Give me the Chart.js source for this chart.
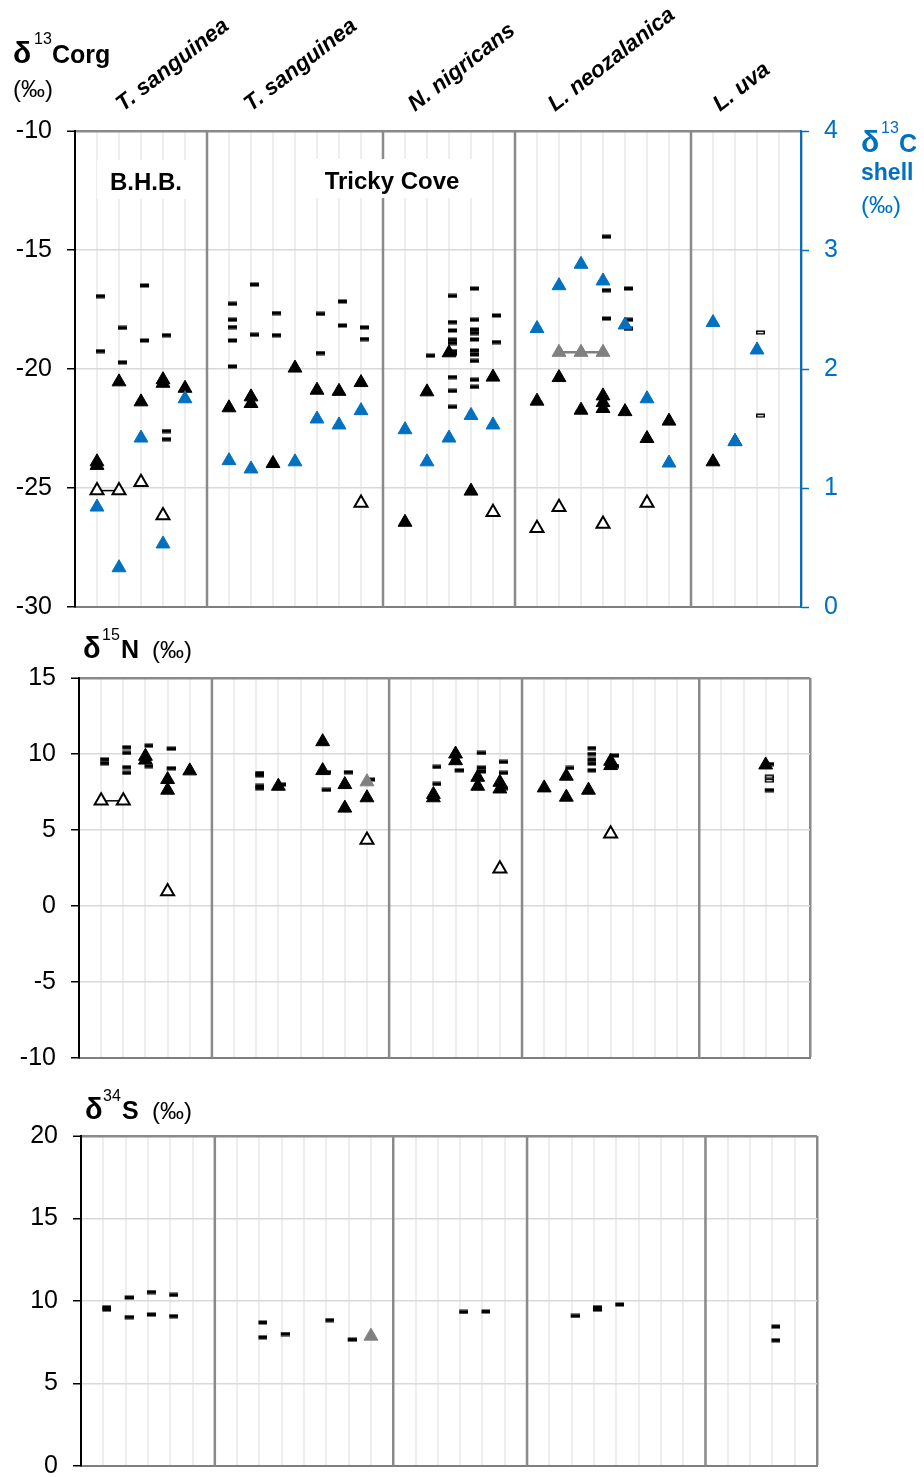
<!DOCTYPE html>
<html>
<head>
<meta charset="utf-8">
<script src="https://cdn.jsdelivr.net/npm/chart.js@4.4.1/dist/chart.umd.min.js"></script>
<style>
  html, body { margin: 0; padding: 0; background: #fff; overflow: hidden; }
  .panel { position: absolute; left: 0; width: 924px; }
</style>
</head>
<body>
<div class="panel" style="top:0;height:620px"><canvas id="c13"></canvas></div>
<div class="panel" style="top:620px;height:450px"><canvas id="n15"></canvas></div>
<div class="panel" style="top:1070px;height:407px"><canvas id="s34"></canvas></div>
<script>
// ---- categories / axes ----
const species = ["T. sanguinea", "T. sanguinea", "N. nigricans", "L. neozalanica", "L. uva"];
const sites = ["B.H.B.", "Tricky Cove"];
const groupBreaks = [6, 14, 20, 28];   // slot boundaries between species
const slotRange = [0, 33];
const corgRange = [-30, -10, 5];
const shellRange = [0, 4, 1];
const nRange = [-10, 15, 5];
const sRange = [0, 20, 5];

// ---- d13C org (left axis) ----
const corgSamples = [
  [1, -16.94], [1, -19.25], [2, -18.27], [2, -19.72], [3, -16.49], [3, -18.8],
  [4, -18.58], [4, -22.61], [4, -22.95],
  [7, -17.26], [7, -17.93], [7, -18.24], [7, -18.8], [7, -19.89],
  [8, -16.45], [8, -18.56], [9, -17.65], [9, -18.58], [11, -17.68], [11, -19.33],
  [12, -17.16], [12, -18.17], [13, -18.25], [13, -18.74],
  [16, -19.44],
  [17, -16.93], [17, -18.03], [17, -18.38], [17, -18.77], [17, -18.91], [17, -19.25],
  [17, -19.36], [17, -20.34], [17, -20.92], [17, -21.59],
  [18, -16.62], [18, -17.93], [18, -18.34], [18, -18.49], [18, -18.76], [18, -19.22],
  [18, -19.39], [18, -19.66], [18, -20.45], [18, -20.75],
  [19, -17.75], [19, -18.87],
  [24, -14.44], [24, -16.69], [24, -17.88], [25, -16.62], [25, -17.93], [25, -18.31]
];
const corgHollow = [[31, -18.46], [31, -21.96]];
const corgMeans = [
  [1, -23.9], [1, -24.05], [2, -20.54], [3, -21.38], [4, -20.45], [4, -20.6], [5, -20.81],
  [7, -21.63], [8, -21.17], [8, -21.45], [9, -23.97], [10, -19.96], [11, -20.89],
  [12, -20.94], [13, -20.57],
  [15, -26.44], [16, -20.96], [17, -19.32], [18, -25.13], [19, -20.34],
  [21, -21.35], [22, -20.36], [23, -21.73], [24, -21.13], [24, -21.41], [24, -21.66],
  [25, -21.79], [26, -22.92], [27, -22.19],
  [29, -23.9], [30, -23.05]
];
const corgOpen = [[3, -24.76], [4, -26.16], [13, -25.63], [19, -26.02], [21, -26.69],
  [22, -25.81], [24, -26.51], [26, -25.63]];
const corgOpenPair = [[1, -25.11], [2, -25.11]];
const corgGray = [[22, -19.3], [23, -19.3], [24, -19.3]];

// ---- d13C shell (right axis) ----
const shellMeans = [
  [1, 0.84], [2, 0.33], [3, 1.42], [4, 0.53], [5, 1.75],
  [7, 1.23], [8, 1.16], [10, 1.22], [11, 1.58], [12, 1.53], [13, 1.65],
  [15, 1.49], [16, 1.22], [17, 1.42], [18, 1.61], [19, 1.53],
  [21, 2.34], [22, 2.7], [23, 2.88], [24, 2.74], [25, 2.37], [26, 1.75], [27, 1.21],
  [29, 2.39], [30, 1.39], [31, 2.16]
];

// ---- d15N ----
const nSamples = [
  [1, 9.65], [1, 9.39], [2, 10.44], [2, 10.07], [2, 9.13], [2, 8.76], [3, 10.55], [3, 9.2],
  [4, 10.35], [4, 9.06],
  [8, 8.75], [8, 8.6], [8, 7.9], [8, 7.75], [9, 7.99], [11, 8.8], [11, 7.64], [12, 8.8], [13, 8.32],
  [16, 9.15], [16, 8.03], [17, 8.93], [18, 10.07], [18, 9.1], [18, 8.85],
  [19, 9.48], [19, 8.76], [19, 7.75],
  [22, 9.08], [23, 10.39], [23, 10.0], [23, 9.63], [23, 9.37], [23, 8.93], [24, 9.9], [24, 9.2],
  [31, 9.34], [31, 7.62]
];
const nHollow = [[31, 8.5], [31, 8.25]];
const nMeans = [
  [3, 9.85], [3, 9.6], [4, 8.32], [4, 7.62], [5, 8.89],
  [9, 7.88], [11, 10.81], [11, 8.91], [12, 7.99], [12, 6.44], [13, 7.12],
  [16, 7.34], [16, 7.12], [17, 10.0], [17, 9.56], [18, 8.47], [18, 7.88], [19, 8.14], [19, 7.7],
  [21, 7.77], [22, 8.54], [22, 7.16], [23, 7.62], [24, 9.52], [24, 9.24],
  [31, 9.28]
];
const nOpen = [[4, 0.95], [13, 4.35], [19, 2.45], [24, 4.76]];
const nOpenPair = [[1, 6.92], [2, 6.92]];
const nGray = [[13, 8.17]];

// ---- d34S ----
const sSamples = [
  [1, 9.62], [1, 9.48], [2, 10.21], [2, 9.02], [3, 10.54], [3, 9.18], [4, 10.37], [4, 9.08],
  [8, 8.7], [8, 7.8], [9, 8.0], [11, 8.84], [12, 7.66],
  [17, 9.34], [18, 9.36],
  [22, 9.1], [23, 9.62], [23, 9.48], [24, 9.79],
  [31, 8.45], [31, 7.62]
];
const sGray = [[13, 7.87]];

// ---- styling ----
const FONT = "'Liberation Sans', Arial, Helvetica, sans-serif";
const BLUE = "#0070C0";
const SEP = "#8a8a8a";

function dashImage(hollow) {
  const c = document.createElement("canvas");
  c.width = 16; c.height = 5;
  const g = c.getContext("2d");
  g.fillStyle = "#000";
  g.fillRect(7, 0.5, 9, 4);
  if (hollow) { g.fillStyle = "#fff"; g.fillRect(8.5, 2, 6, 1.2); }
  return c;
}
const solidDash = dashImage(false);
const hollowDash = dashImage(true);

const pts = (arr) => arr.map(([x, y]) => ({ x, y }));

function dashSet(data, hollow) {
  return { data: pts(data), pointStyle: hollow ? hollowDash : solidDash, pointRadius: 4, showLine: false };
}
function triSet(data, fill, border, bw, extra) {
  return Object.assign({
    data: pts(data), pointStyle: "triangle", pointRadius: 8,
    pointBackgroundColor: fill, pointBorderColor: border, pointBorderWidth: bw, showLine: false
  }, extra || {});
}

function xScale() {
  const last = slotRange[1];
  return {
    type: "linear", min: slotRange[0], max: last,
    ticks: { display: false, stepSize: 1 },
    grid: {
      color: (c) => (c.tick && c.tick.value === last ? SEP : "#eeeeee"),
      lineWidth: (c) => (c.tick && c.tick.value === last ? 2.5 : 2),
      drawTicks: false
    },
    border: { color: "#7f7f7f", width: 2 },
    afterFit: (s) => { s.height = 0; }
  };
}
function yScale(range, width, color, pos) {
  const [min, max, step] = range;
  const right = pos === "right";
  return {
    type: "linear", position: pos || "left", min, max,
    ticks: { stepSize: step, color: color, font: { family: FONT, size: 25 }, padding: 15 },
    grid: right ? { drawOnChartArea: false, tickColor: color, tickLength: 8, tickWidth: 1.5 } : {
      color: (c) => (c.tick && c.tick.value === max ? SEP : "#d9d9d9"),
      lineWidth: (c) => (c.tick && c.tick.value === max ? 2.5 : 1.5),
      tickColor: "#000", tickLength: 8, tickWidth: 1.5
    },
    border: { color: color, width: 2 },
    afterFit: (s) => { s.width = width; s.paddingTop = 0; s.paddingBottom = 0; }
  };
}

function drawRuns(ctx, runs) {
  runs.forEach((r) => {
    ctx.font = r.font;
    ctx.fillStyle = r.color || "#000";
    ctx.textAlign = r.align || "left";
    ctx.textBaseline = "alphabetic";
    ctx.fillText(r.text, r.x, r.y);
  });
}

function panelPlugin(opts) {
  return {
    id: "panel",
    beforeDatasetsDraw(chart) {
      const { ctx, chartArea: a, scales } = chart;
      ctx.save();
      ctx.strokeStyle = SEP;
      ctx.lineWidth = 2.5;
      groupBreaks.forEach((v) => {
        const px = scales.x.getPixelForValue(v);
        ctx.beginPath();
        ctx.moveTo(px, a.top);
        ctx.lineTo(px, a.bottom);
        ctx.stroke();
      });
      // site names sit on white boxes that hide the lines behind them
      (opts.boxes || []).forEach((b) => {
        ctx.font = "bold 24px " + FONT;
        const w = ctx.measureText(b.text).width;
        ctx.fillStyle = "#fff";
        ctx.fillRect(b.x - w / 2 - 13, b.y - 30, w + 26, 39);
        drawRuns(ctx, [{ text: b.text, x: b.x, y: b.y, font: "bold 24px " + FONT, align: "center" }]);
      });
      ctx.restore();
    },
    afterDraw(chart) {
      const ctx = chart.ctx;
      ctx.save();
      drawRuns(ctx, opts.titles || []);
      (opts.rotated || []).forEach((r) => {
        ctx.save();
        ctx.translate(r.x, r.y);
        ctx.rotate(-38 * Math.PI / 180);
        ctx.font = "italic bold 22.5px " + FONT;
        ctx.fillStyle = "#000";
        ctx.textAlign = "left";
        ctx.fillText(r.text, 0, 0);
        ctx.restore();
      });
      ctx.restore();
    }
  };
}

function makeChart(id, datasets, scales, padding, plugin) {
  return new Chart(document.getElementById(id), {
    type: "scatter",
    data: { datasets },
    options: {
      responsive: true, maintainAspectRatio: false, animation: false, events: [],
      layout: { padding },
      plugins: { legend: { display: false }, tooltip: { enabled: false } },
      scales
    },
    plugins: [plugin]
  });
}

// ---- top panel: d13C ----
const speciesX = [123, 251, 415, 555, 720];
makeChart("c13", [
  triSet(shellMeans, BLUE, BLUE, 1, { yAxisID: "y2" }),
  triSet(corgGray, "#808080", "#808080", 1, { showLine: true, borderColor: "#808080", borderWidth: 2.5 }),
  triSet(corgOpenPair, "#fff", "#000", 2, { showLine: true, borderColor: "#000", borderWidth: 1.5, pointRadius: 7.5 }),
  triSet(corgOpen, "#fff", "#000", 2, { pointRadius: 7.5 }),
  triSet(corgMeans, "#000", "#000", 1),
  dashSet(corgHollow, true),
  dashSet(corgSamples, false)
], {
  x: xScale(),
  y: yScale(corgRange, 75, "#000", "left"),
  y2: yScale(shellRange, 123, BLUE, "right")
}, { top: 131, bottom: 13, left: 0, right: 0 }, panelPlugin({
  boxes: [{ text: sites[0], x: 146, y: 190 }, { text: sites[1], x: 392, y: 189 }],
  titles: [
    { text: "\u03b4", x: 13, y: 63, font: "bold 30px " + FONT },
    { text: "13", x: 34, y: 44, font: "16px " + FONT },
    { text: "Corg", x: 52, y: 63, font: "bold 25px " + FONT },
    { text: "(\u2030)", x: 13, y: 97, font: "24px " + FONT },
    { text: "\u03b4", x: 861, y: 152, font: "bold 30px " + FONT, color: BLUE },
    { text: "13", x: 881, y: 133, font: "16px " + FONT, color: BLUE },
    { text: "C", x: 899, y: 152, font: "bold 25px " + FONT, color: BLUE },
    { text: "shell", x: 861, y: 180, font: "bold 23px " + FONT, color: BLUE },
    { text: "(\u2030)", x: 861, y: 213, font: "24px " + FONT, color: BLUE }
  ],
  rotated: species.map((s, i) => ({ text: s, x: speciesX[i], y: 112 }))
}));

// ---- middle panel: d15N ----
makeChart("n15", [
  triSet(nGray, "#808080", "#808080", 1),
  triSet(nOpenPair, "#fff", "#000", 2, { showLine: true, borderColor: "#000", borderWidth: 1.5, pointRadius: 7.5 }),
  triSet(nOpen, "#fff", "#000", 2, { pointRadius: 7.5 }),
  triSet(nMeans, "#000", "#000", 1),
  dashSet(nHollow, true),
  dashSet(nSamples, false)
], {
  x: xScale(),
  y: yScale(nRange, 79, "#000", "left")
}, { top: 58, bottom: 12, left: 0, right: 114 }, panelPlugin({
  titles: [
    { text: "\u03b4", x: 83, y: 38, font: "bold 29px " + FONT },
    { text: "15", x: 102, y: 20, font: "16px " + FONT },
    { text: "N", x: 121, y: 38, font: "bold 25px " + FONT },
    { text: "(\u2030)", x: 152, y: 38, font: "24px " + FONT }
  ]
}));

// ---- bottom panel: d34S ----
makeChart("s34", [
  triSet(sGray, "#808080", "#808080", 1),
  dashSet(sSamples, false)
], {
  x: xScale(),
  y: yScale(sRange, 81, "#000", "left")
}, { top: 66, bottom: 11, left: 0, right: 107 }, panelPlugin({
  titles: [
    { text: "\u03b4", x: 85, y: 49, font: "bold 29px " + FONT },
    { text: "34", x: 103, y: 31, font: "16px " + FONT },
    { text: "S", x: 122, y: 49, font: "bold 25px " + FONT },
    { text: "(\u2030)", x: 152, y: 49, font: "24px " + FONT }
  ]
}));
</script>
</body>
</html>
